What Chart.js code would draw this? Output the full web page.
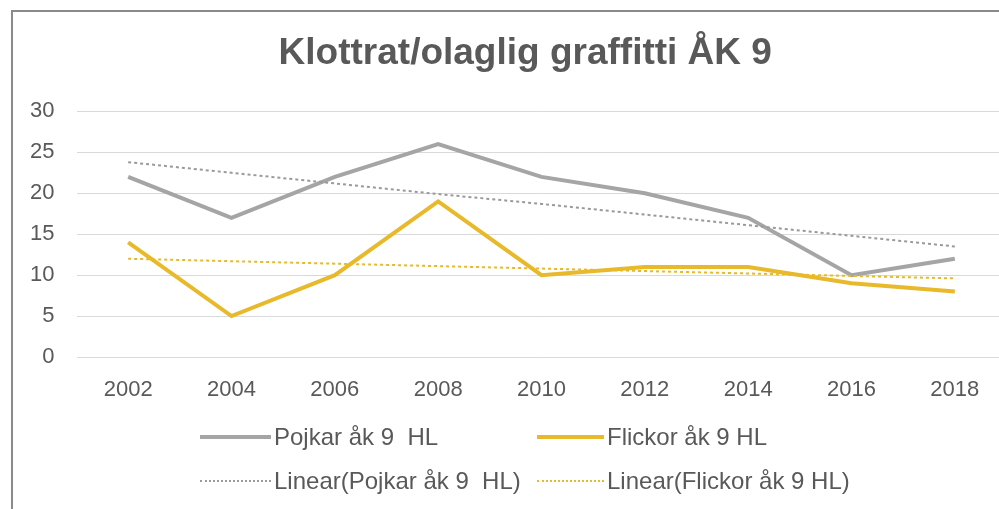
<!DOCTYPE html>
<html>
<head>
<meta charset="utf-8">
<script src="https://cdn.jsdelivr.net/npm/chart.js@4/dist/chart.umd.min.js"></script>
<style>
  html, body { margin: 0; padding: 0; background: #fff; overflow: hidden; width: 999px; height: 509px; }
  #frame { position: absolute; left: 11px; top: 10px; width: 1100px; height: 600px;
           border-left: 2px solid #8a8a8a; border-top: 2px solid #8a8a8a; }
  #wrap { position: absolute; left: 0; top: 0; width: 1064px; height: 509px; }
  .lg-text { position: absolute; font: 24px "Liberation Sans", Arial, sans-serif; color: #595959;
             white-space: pre; line-height: 26px; }
  .lg-line { position: absolute; height: 0; }
</style>
</head>
<body>
<div id="frame"></div>
<div id="wrap"><canvas id="graffiti"></canvas></div>
<div id="legend"></div>
<script>
var years = ["2002", "2004", "2006", "2008", "2010", "2012", "2014", "2016", "2018"];
var pojkar = [22, 17, 22, 26, 22, 20, 17, 10, 12];
var flickor = [14, 5, 10, 19, 10, 11, 11, 9, 8];
// trend lines
var pojkarTrend = [23.8, 22.5, 21.2, 19.9, 18.7, 17.4, 16.1, 14.8, 13.5];
var flickorTrend = [12.0, 11.7, 11.4, 11.1, 10.8, 10.5, 10.2, 9.9, 9.6];
var seriesNames = ["Pojkar åk 9  HL", "Flickor åk 9 HL", "Linear(Pojkar åk 9  HL)", "Linear(Flickor åk 9 HL)"];
var yTicks = [0, 5, 10, 15, 20, 25, 30];

var grey = "#a5a5a5";
var gold = "#e8b92a";
var textCol = "#595959";
var fontFam = "'Liberation Sans', Arial, sans-serif";

new Chart("graffiti", {
  type: "line",
  data: {
    labels: years,
    datasets: [{
      label: seriesNames[2],
      data: pojkarTrend,
      borderColor: "#9a9a9a",
      borderWidth: 2,
      borderDash: [3, 3],
      pointRadius: 0
    }, {
      label: seriesNames[3],
      data: flickorTrend,
      borderColor: gold,
      borderWidth: 2,
      borderDash: [3, 3],
      pointRadius: 0
    }, {
      label: seriesNames[0],
      data: pojkar,
      borderColor: grey,
      borderWidth: 4,
      pointRadius: 0
    }, {
      label: seriesNames[1],
      data: flickor,
      borderColor: gold,
      borderWidth: 4,
      pointRadius: 0
    }]
  },
  options: {
    responsive: true,
    maintainAspectRatio: false,
    animation: false,
    layout: { padding: { left: 0, right: 13.5, top: 0, bottom: 107 } },
    plugins: {
      legend: { display: false },
      tooltip: { enabled: false },
      title: {
        display: true,
        text: "Klottrat/olaglig graffitti ÅK 9",
        color: textCol,
        font: { family: fontFam, size: 37, weight: "bold" },
        padding: { top: 32, bottom: 35 }
      }
    },
    scales: {
      x: {
        offset: true,
        grid: { display: false },
        border: { display: false },
        ticks: { color: textCol, font: { family: fontFam, size: 22 }, padding: 12, maxRotation: 0 },
        afterFit: function(s) { s.height = 45; }
      },
      y: {
        min: yTicks[0],
        max: yTicks[yTicks.length - 1],
        ticks: { stepSize: 5, color: textCol, font: { family: fontFam, size: 22 }, padding: 22 },
        grid: { color: "#d9d9d9", drawTicks: false },
        border: { display: false },
        afterFit: function(s) { s.width = 76.5; }
      },
      // empty strip on the right, only so the title sits where the original has it
      pad: {
        position: "right",
        min: 0, max: 1,
        ticks: { display: false },
        grid: { display: false },
        border: { display: false },
        afterFit: function(s) { s.width = 44; }
      }
    }
  }
});

// legend laid out in two columns like the original
var legendItems = [
  { name: seriesNames[0], color: grey, style: "solid", w: 4, x: 200, len: 71, y: 437 },
  { name: seriesNames[1], color: gold, style: "solid", w: 4, x: 537, len: 67, y: 437 },
  { name: seriesNames[2], color: "#9a9a9a", style: "dotted", w: 2, x: 200, len: 71, y: 481 },
  { name: seriesNames[3], color: gold, style: "dotted", w: 2, x: 537, len: 67, y: 481 }
];
var lg = document.getElementById("legend");
legendItems.forEach(function(it) {
  var line = document.createElement("div");
  line.className = "lg-line";
  line.style.left = it.x + "px";
  line.style.top = (it.y - it.w / 2) + "px";
  line.style.width = it.len + "px";
  line.style.borderTop = it.w + "px " + it.style + " " + it.color;
  lg.appendChild(line);
  var t = document.createElement("div");
  t.className = "lg-text";
  t.style.left = (it.x + it.len + 3) + "px";
  t.style.top = (it.y - 13) + "px";
  t.textContent = it.name;
  lg.appendChild(t);
});
</script>
</body>
</html>
